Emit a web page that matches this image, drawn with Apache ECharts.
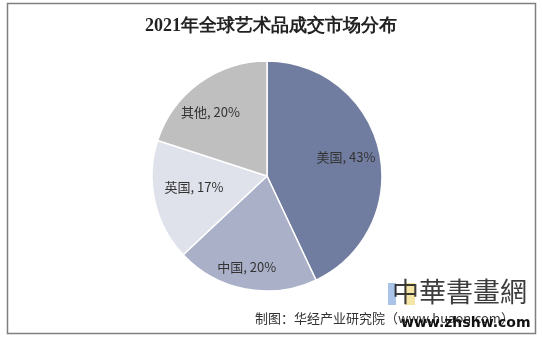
<!DOCTYPE html>
<html><head><meta charset="utf-8">
<script src="https://cdn.jsdelivr.net/npm/echarts@6/dist/echarts.min.js"></script>
<style>html,body{margin:0;padding:0;background:#fff}#c{width:542px;height:339px}</style>
</head><body><div id="c"></div>
<script>
const titleText = '2021年全球艺术品成交市场分布';
const categories = ['美国', '中国', '英国', '其他'];
const values = [43, 20, 17, 20];
const sourceText = '制图：华经产业研究院（www.huaon.com）';

const colors = ['#717DA0', '#AAB0C8', '#DFE2EB', '#BFBFBF'];
const labelShift = [[20, -6], [-9, 32], [-14, -2], [-21, -15]];

const chart = echarts.init(document.getElementById('c'));
chart.setOption({
  animation: false,
  title: {
    text: titleText, left: 'center', top: 12,
    textStyle: { fontFamily: 'serif', fontWeight: 'bold', fontSize: 18, color: '#222' }
  },
  graphic: [
    { type: 'rect', shape: { x: 7.5, y: 3.5, width: 528, height: 330 },
      style: { fill: 'none', stroke: '#7f7f7f', lineWidth: 1.5 }, z: 10 },
    { type: 'text', left: 255, top: 312,
      style: { text: sourceText, fontSize: 13, fill: '#333', fontFamily: 'Noto Sans CJK SC' }, z: 5 },
    { type: 'rect', shape: { x: 388, y: 283, width: 8, height: 22 }, style: { fill: '#A9C4E8' }, z: 5 },
    { type: 'rect', shape: { x: 405, y: 283, width: 10, height: 22 }, style: { fill: '#F5E6A8' }, z: 5 },
    { type: 'text', left: 392, top: 278,
      style: { text: '中華書畫網', fontSize: 27, fill: '#1a1a1a', fontFamily: 'Noto Sans CJK SC', opacity: 0.85 }, z: 6 },
    { type: 'text', left: 401, top: 316,
      style: { text: 'www.zhshw.com', fontSize: 14, fill: '#111', fontFamily: 'DejaVu Sans', fontWeight: 'bold' }, z: 7 }
  ],
  series: [{
    type: 'pie',
    center: [267, 176],
    radius: 115,
    startAngle: 90,
    clockwise: true,
    data: categories.map((n, i) => ({ name: n, value: values[i], itemStyle: { color: colors[i] } })),
    itemStyle: { borderColor: '#fff', borderWidth: 1.5 },
    label: {
      position: 'inside',
      formatter: p => p.name + ', ' + p.value + '%',
      fontSize: 13, color: '#333', fontFamily: 'Noto Sans CJK SC'
    },
    labelLayout: p => ({ dx: labelShift[p.dataIndex][0], dy: labelShift[p.dataIndex][1] }),
    labelLine: { show: false },
    emphasis: { disabled: true }
  }]
});
</script></body></html>
